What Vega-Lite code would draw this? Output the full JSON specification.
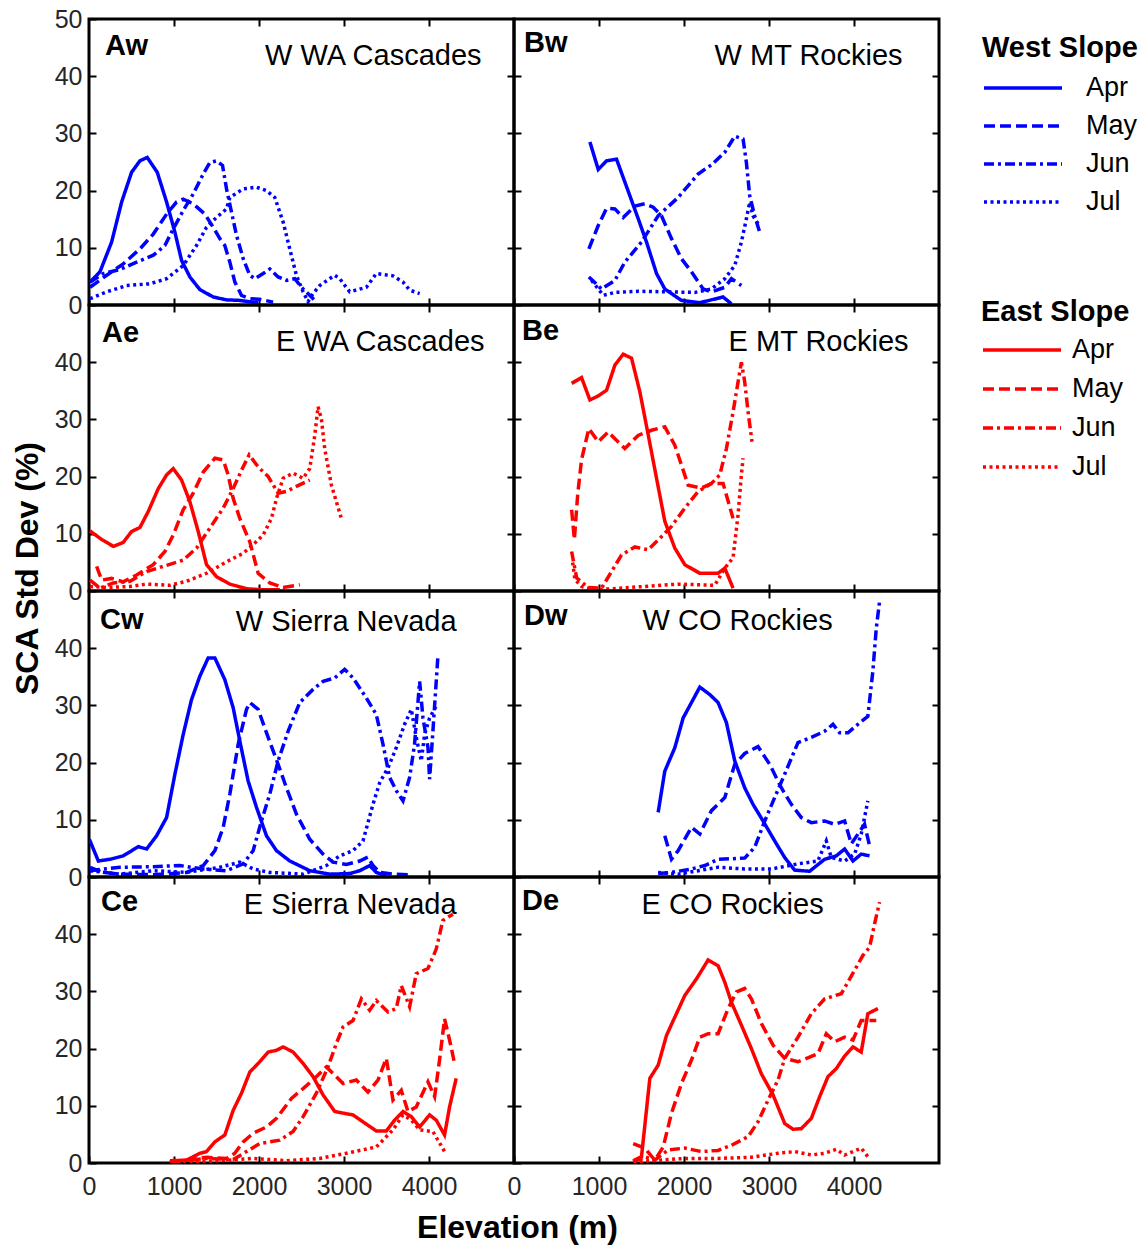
{
  "$schema": "https://vega.github.io/schema/vega-lite/v6.json",
  "background": "white",
  "padding": {"left": 9, "top": 5, "right": 0, "bottom": 0},
  "bounds": "flush",
  "spacing": 0,
  "columns": 2,
  "config": {
    "view": {"stroke": "black", "strokeWidth": 3},
    "axis": {"domain": false, "grid": false, "tickSize": -7, "tickWidth": 2, "tickColor": "black", "labelFont": "Liberation Sans", "labelFontSize": 25, "labelColor": "#262626", "labelFlush": false, "labelOverlap": false, "titleFont": "Liberation Sans", "titleFontWeight": "bold", "titleFontSize": 32, "titleColor": "black"},
    "legend": {"padding": 0}
  },
  "resolve": {"scale": {"strokeDash": "independent"}, "legend": {"strokeDash": "independent"}},
  "datasets": {
    "labels": [
      {"panel":"Aw","code":"Aw","region":"W WA Cascades"},
      {"panel":"Bw","code":"Bw","region":"W MT Rockies"},
      {"panel":"Ae","code":"Ae","region":"E WA Cascades"},
      {"panel":"Be","code":"Be","region":"E MT Rockies"},
      {"panel":"Cw","code":"Cw","region":"W Sierra Nevada"},
      {"panel":"Dw","code":"Dw","region":"W CO Rockies"},
      {"panel":"Ce","code":"Ce","region":"E Sierra Nevada"},
      {"panel":"De","code":"De","region":"E CO Rockies"}
    ],
    "sca": [
      {"panel":"Aw","month":"Apr","elev":12,"sd":4.0},{"panel":"Aw","month":"Apr","elev":129,"sd":5.8},{"panel":"Aw","month":"Apr","elev":266,"sd":11.0},{"panel":"Aw","month":"Apr","elev":384,"sd":18.0},{"panel":"Aw","month":"Apr","elev":501,"sd":23.2},{"panel":"Aw","month":"Apr","elev":599,"sd":25.2},{"panel":"Aw","month":"Apr","elev":685,"sd":25.8},{"panel":"Aw","month":"Apr","elev":803,"sd":23.2},{"panel":"Aw","month":"Apr","elev":913,"sd":18.0},{"panel":"Aw","month":"Apr","elev":1011,"sd":12.7},{"panel":"Aw","month":"Apr","elev":1089,"sd":7.8},{"panel":"Aw","month":"Apr","elev":1187,"sd":4.9},{"panel":"Aw","month":"Apr","elev":1304,"sd":2.7},{"panel":"Aw","month":"Apr","elev":1461,"sd":1.4},{"panel":"Aw","month":"Apr","elev":1618,"sd":0.9},{"panel":"Aw","month":"Apr","elev":1774,"sd":0.8},{"panel":"Aw","month":"Apr","elev":1931,"sd":0.5},{"panel":"Aw","month":"Apr","elev":1990,"sd":0.5},
      {"panel":"Aw","month":"May","elev":12,"sd":3.1},{"panel":"Aw","month":"May","elev":208,"sd":5.2},{"panel":"Aw","month":"May","elev":403,"sd":7.2},{"panel":"Aw","month":"May","elev":599,"sd":9.8},{"panel":"Aw","month":"May","elev":756,"sd":12.4},{"panel":"Aw","month":"May","elev":913,"sd":15.9},{"panel":"Aw","month":"May","elev":1030,"sd":18.0},{"panel":"Aw","month":"May","elev":1108,"sd":18.5},{"panel":"Aw","month":"May","elev":1226,"sd":17.7},{"panel":"Aw","month":"May","elev":1363,"sd":15.9},{"panel":"Aw","month":"May","elev":1461,"sd":13.6},{"panel":"Aw","month":"May","elev":1539,"sd":11.6},{"panel":"Aw","month":"May","elev":1598,"sd":10.4},{"panel":"Aw","month":"May","elev":1657,"sd":7.5},{"panel":"Aw","month":"May","elev":1716,"sd":4.0},{"panel":"Aw","month":"May","elev":1794,"sd":1.7},{"panel":"Aw","month":"May","elev":1892,"sd":1.1},{"panel":"Aw","month":"May","elev":2010,"sd":1.0},{"panel":"Aw","month":"May","elev":2166,"sd":0.5},
      {"panel":"Aw","month":"Jun","elev":12,"sd":4.0},{"panel":"Aw","month":"Jun","elev":168,"sd":5.5},{"panel":"Aw","month":"Jun","elev":364,"sd":6.2},{"panel":"Aw","month":"Jun","elev":560,"sd":7.5},{"panel":"Aw","month":"Jun","elev":756,"sd":8.7},{"panel":"Aw","month":"Jun","elev":893,"sd":10.4},{"panel":"Aw","month":"Jun","elev":991,"sd":13.3},{"panel":"Aw","month":"Jun","elev":1108,"sd":16.5},{"panel":"Aw","month":"Jun","elev":1226,"sd":19.4},{"panel":"Aw","month":"Jun","elev":1344,"sd":22.9},{"panel":"Aw","month":"Jun","elev":1422,"sd":24.9},{"panel":"Aw","month":"Jun","elev":1500,"sd":25.2},{"panel":"Aw","month":"Jun","elev":1571,"sd":24.4},{"panel":"Aw","month":"Jun","elev":1618,"sd":20.3},{"panel":"Aw","month":"Jun","elev":1677,"sd":16.2},{"panel":"Aw","month":"Jun","elev":1735,"sd":12.2},{"panel":"Aw","month":"Jun","elev":1814,"sd":8.1},{"panel":"Aw","month":"Jun","elev":1892,"sd":5.2},{"panel":"Aw","month":"Jun","elev":1951,"sd":4.6},{"panel":"Aw","month":"Jun","elev":2049,"sd":5.5},{"panel":"Aw","month":"Jun","elev":2127,"sd":6.3},{"panel":"Aw","month":"Jun","elev":2225,"sd":4.9},{"panel":"Aw","month":"Jun","elev":2323,"sd":4.3},{"panel":"Aw","month":"Jun","elev":2421,"sd":4.6},{"panel":"Aw","month":"Jun","elev":2499,"sd":3.1},{"panel":"Aw","month":"Jun","elev":2597,"sd":1.7},{"panel":"Aw","month":"Jun","elev":2675,"sd":0.5},
      {"panel":"Aw","month":"Jul","elev":12,"sd":1.1},{"panel":"Aw","month":"Jul","elev":208,"sd":2.3},{"panel":"Aw","month":"Jul","elev":443,"sd":3.4},{"panel":"Aw","month":"Jul","elev":717,"sd":3.7},{"panel":"Aw","month":"Jul","elev":913,"sd":4.6},{"panel":"Aw","month":"Jul","elev":1108,"sd":6.9},{"panel":"Aw","month":"Jul","elev":1265,"sd":10.4},{"panel":"Aw","month":"Jul","elev":1383,"sd":13.6},{"panel":"Aw","month":"Jul","elev":1500,"sd":15.3},{"panel":"Aw","month":"Jul","elev":1618,"sd":16.8},{"panel":"Aw","month":"Jul","elev":1657,"sd":18.8},{"panel":"Aw","month":"Jul","elev":1814,"sd":20.3},{"panel":"Aw","month":"Jul","elev":1970,"sd":20.6},{"panel":"Aw","month":"Jul","elev":2088,"sd":20.0},{"panel":"Aw","month":"Jul","elev":2186,"sd":18.8},{"panel":"Aw","month":"Jul","elev":2284,"sd":14.5},{"panel":"Aw","month":"Jul","elev":2362,"sd":9.8},{"panel":"Aw","month":"Jul","elev":2440,"sd":5.2},{"panel":"Aw","month":"Jul","elev":2519,"sd":2.3},{"panel":"Aw","month":"Jul","elev":2577,"sd":0.6},{"panel":"Aw","month":"Jul","elev":2636,"sd":2.0},{"panel":"Aw","month":"Jul","elev":2714,"sd":3.4},{"panel":"Aw","month":"Jul","elev":2891,"sd":5.2},{"panel":"Aw","month":"Jul","elev":2950,"sd":4.6},{"panel":"Aw","month":"Jul","elev":3067,"sd":2.3},{"panel":"Aw","month":"Jul","elev":3263,"sd":3.1},{"panel":"Aw","month":"Jul","elev":3380,"sd":5.5},{"panel":"Aw","month":"Jul","elev":3576,"sd":5.1},{"panel":"Aw","month":"Jul","elev":3694,"sd":4.0},{"panel":"Aw","month":"Jul","elev":3772,"sd":2.6},{"panel":"Aw","month":"Jul","elev":3890,"sd":2.0},

      {"panel":"Bw","month":"Apr","elev":893,"sd":28.5},{"panel":"Bw","month":"Apr","elev":991,"sd":23.7},{"panel":"Bw","month":"Apr","elev":1089,"sd":25.2},{"panel":"Bw","month":"Apr","elev":1206,"sd":25.5},{"panel":"Bw","month":"Apr","elev":1363,"sd":19.1},{"panel":"Bw","month":"Apr","elev":1461,"sd":15.1},{"panel":"Bw","month":"Apr","elev":1559,"sd":11.0},{"panel":"Bw","month":"Apr","elev":1677,"sd":5.5},{"panel":"Bw","month":"Apr","elev":1774,"sd":2.8},{"panel":"Bw","month":"Apr","elev":1970,"sd":0.8},{"panel":"Bw","month":"Apr","elev":2186,"sd":0.4},{"panel":"Bw","month":"Apr","elev":2460,"sd":1.4},{"panel":"Bw","month":"Apr","elev":2558,"sd":0.2},
      {"panel":"Bw","month":"May","elev":881,"sd":9.8},{"panel":"Bw","month":"May","elev":991,"sd":13.9},{"panel":"Bw","month":"May","elev":1089,"sd":16.9},{"panel":"Bw","month":"May","elev":1187,"sd":16.8},{"panel":"Bw","month":"May","elev":1285,"sd":15.3},{"panel":"Bw","month":"May","elev":1422,"sd":17.3},{"panel":"Bw","month":"May","elev":1539,"sd":17.7},{"panel":"Bw","month":"May","elev":1637,"sd":17.1},{"panel":"Bw","month":"May","elev":1735,"sd":15.6},{"panel":"Bw","month":"May","elev":1853,"sd":11.6},{"panel":"Bw","month":"May","elev":1970,"sd":8.1},{"panel":"Bw","month":"May","elev":2088,"sd":5.8},{"panel":"Bw","month":"May","elev":2225,"sd":2.8},{"panel":"Bw","month":"May","elev":2323,"sd":2.3},{"panel":"Bw","month":"May","elev":2480,"sd":3.1},{"panel":"Bw","month":"May","elev":2558,"sd":4.6},{"panel":"Bw","month":"May","elev":2675,"sd":3.4},
      {"panel":"Bw","month":"Jun","elev":881,"sd":4.9},{"panel":"Bw","month":"Jun","elev":1030,"sd":2.8},{"panel":"Bw","month":"Jun","elev":1187,"sd":4.3},{"panel":"Bw","month":"Jun","elev":1304,"sd":7.5},{"panel":"Bw","month":"Jun","elev":1500,"sd":11.0},{"panel":"Bw","month":"Jun","elev":1696,"sd":15.6},{"panel":"Bw","month":"Jun","elev":1931,"sd":18.8},{"panel":"Bw","month":"Jun","elev":2166,"sd":22.9},{"panel":"Bw","month":"Jun","elev":2323,"sd":24.5},{"panel":"Bw","month":"Jun","elev":2480,"sd":26.7},{"panel":"Bw","month":"Jun","elev":2597,"sd":29.5},{"panel":"Bw","month":"Jun","elev":2695,"sd":29.0},{"panel":"Bw","month":"Jun","elev":2734,"sd":24.9},{"panel":"Bw","month":"Jun","elev":2773,"sd":19.1},{"panel":"Bw","month":"Jun","elev":2832,"sd":15.6},{"panel":"Bw","month":"Jun","elev":2891,"sd":12.7},
      {"panel":"Bw","month":"Jul","elev":912,"sd":4.3},{"panel":"Bw","month":"Jul","elev":1050,"sd":1.7},{"panel":"Bw","month":"Jul","elev":1187,"sd":2.2},{"panel":"Bw","month":"Jul","elev":1461,"sd":2.4},{"panel":"Bw","month":"Jul","elev":1814,"sd":2.3},{"panel":"Bw","month":"Jul","elev":2127,"sd":2.2},{"panel":"Bw","month":"Jul","elev":2323,"sd":2.8},{"panel":"Bw","month":"Jul","elev":2480,"sd":4.6},{"panel":"Bw","month":"Jul","elev":2597,"sd":6.9},{"panel":"Bw","month":"Jul","elev":2675,"sd":11.0},{"panel":"Bw","month":"Jul","elev":2734,"sd":15.1},{"panel":"Bw","month":"Jul","elev":2773,"sd":18.0},{"panel":"Bw","month":"Jul","elev":2812,"sd":15.6},{"panel":"Bw","month":"Jul","elev":2871,"sd":14.2},

      {"panel":"Ae","month":"Apr","elev":12,"sd":10.5},{"panel":"Ae","month":"Apr","elev":149,"sd":9.0},{"panel":"Ae","month":"Apr","elev":286,"sd":7.8},{"panel":"Ae","month":"Apr","elev":403,"sd":8.5},{"panel":"Ae","month":"Apr","elev":501,"sd":10.4},{"panel":"Ae","month":"Apr","elev":599,"sd":11.1},{"panel":"Ae","month":"Apr","elev":697,"sd":13.9},{"panel":"Ae","month":"Apr","elev":815,"sd":17.9},{"panel":"Ae","month":"Apr","elev":913,"sd":20.3},{"panel":"Ae","month":"Apr","elev":991,"sd":21.4},{"panel":"Ae","month":"Apr","elev":1089,"sd":19.4},{"panel":"Ae","month":"Apr","elev":1187,"sd":15.6},{"panel":"Ae","month":"Apr","elev":1285,"sd":10.4},{"panel":"Ae","month":"Apr","elev":1383,"sd":4.6},{"panel":"Ae","month":"Apr","elev":1500,"sd":2.5},{"panel":"Ae","month":"Apr","elev":1657,"sd":1.2},{"panel":"Ae","month":"Apr","elev":1853,"sd":0.4},{"panel":"Ae","month":"Apr","elev":2049,"sd":0.2},{"panel":"Ae","month":"Apr","elev":2245,"sd":0.2},
      {"panel":"Ae","month":"May","elev":90,"sd":4.3},{"panel":"Ae","month":"May","elev":149,"sd":1.9},{"panel":"Ae","month":"May","elev":266,"sd":2.2},{"panel":"Ae","month":"May","elev":403,"sd":1.6},{"panel":"Ae","month":"May","elev":560,"sd":2.8},{"panel":"Ae","month":"May","elev":756,"sd":4.6},{"panel":"Ae","month":"May","elev":893,"sd":6.9},{"panel":"Ae","month":"May","elev":991,"sd":9.8},{"panel":"Ae","month":"May","elev":1108,"sd":14.2},{"panel":"Ae","month":"May","elev":1226,"sd":17.1},{"panel":"Ae","month":"May","elev":1344,"sd":20.8},{"panel":"Ae","month":"May","elev":1481,"sd":23.2},{"panel":"Ae","month":"May","elev":1579,"sd":22.9},{"panel":"Ae","month":"May","elev":1637,"sd":20.3},{"panel":"Ae","month":"May","elev":1696,"sd":16.2},{"panel":"Ae","month":"May","elev":1774,"sd":12.7},{"panel":"Ae","month":"May","elev":1892,"sd":8.6},{"panel":"Ae","month":"May","elev":1990,"sd":3.1},{"panel":"Ae","month":"May","elev":2127,"sd":1.4},{"panel":"Ae","month":"May","elev":2284,"sd":0.6},{"panel":"Ae","month":"May","elev":2480,"sd":1.1},
      {"panel":"Ae","month":"Jun","elev":12,"sd":1.9},{"panel":"Ae","month":"Jun","elev":129,"sd":0.5},{"panel":"Ae","month":"Jun","elev":286,"sd":1.4},{"panel":"Ae","month":"Jun","elev":482,"sd":1.7},{"panel":"Ae","month":"Jun","elev":677,"sd":3.4},{"panel":"Ae","month":"Jun","elev":873,"sd":4.3},{"panel":"Ae","month":"Jun","elev":1108,"sd":5.4},{"panel":"Ae","month":"Jun","elev":1265,"sd":7.5},{"panel":"Ae","month":"Jun","elev":1422,"sd":11.0},{"panel":"Ae","month":"Jun","elev":1579,"sd":14.5},{"panel":"Ae","month":"Jun","elev":1696,"sd":17.9},{"panel":"Ae","month":"Jun","elev":1794,"sd":21.1},{"panel":"Ae","month":"Jun","elev":1884,"sd":23.8},{"panel":"Ae","month":"Jun","elev":1990,"sd":21.7},{"panel":"Ae","month":"Jun","elev":2108,"sd":20.0},{"panel":"Ae","month":"Jun","elev":2225,"sd":17.1},{"panel":"Ae","month":"Jun","elev":2323,"sd":17.4},{"panel":"Ae","month":"Jun","elev":2440,"sd":18.3},{"panel":"Ae","month":"Jun","elev":2597,"sd":19.4},
      {"panel":"Ae","month":"Jul","elev":12,"sd":0.8},{"panel":"Ae","month":"Jul","elev":208,"sd":0.6},{"panel":"Ae","month":"Jul","elev":482,"sd":0.8},{"panel":"Ae","month":"Jul","elev":677,"sd":1.2},{"panel":"Ae","month":"Jul","elev":952,"sd":1.0},{"panel":"Ae","month":"Jul","elev":1148,"sd":1.7},{"panel":"Ae","month":"Jul","elev":1383,"sd":3.1},{"panel":"Ae","month":"Jul","elev":1618,"sd":5.1},{"panel":"Ae","month":"Jul","elev":1814,"sd":6.6},{"panel":"Ae","month":"Jul","elev":1931,"sd":8.1},{"panel":"Ae","month":"Jul","elev":2049,"sd":9.8},{"panel":"Ae","month":"Jul","elev":2147,"sd":12.7},{"panel":"Ae","month":"Jul","elev":2206,"sd":16.2},{"panel":"Ae","month":"Jul","elev":2284,"sd":19.7},{"panel":"Ae","month":"Jul","elev":2401,"sd":20.6},{"panel":"Ae","month":"Jul","elev":2519,"sd":19.7},{"panel":"Ae","month":"Jul","elev":2597,"sd":21.4},{"panel":"Ae","month":"Jul","elev":2656,"sd":27.2},{"panel":"Ae","month":"Jul","elev":2695,"sd":32.2},{"panel":"Ae","month":"Jul","elev":2734,"sd":30.1},{"panel":"Ae","month":"Jul","elev":2773,"sd":24.9},{"panel":"Ae","month":"Jul","elev":2852,"sd":18.5},{"panel":"Ae","month":"Jul","elev":2969,"sd":12.7},

      {"panel":"Be","month":"Apr","elev":678,"sd":36.3},{"panel":"Be","month":"Apr","elev":795,"sd":37.3},{"panel":"Be","month":"Apr","elev":893,"sd":33.4},{"panel":"Be","month":"Apr","elev":991,"sd":34.1},{"panel":"Be","month":"Apr","elev":1089,"sd":35.1},{"panel":"Be","month":"Apr","elev":1187,"sd":39.5},{"panel":"Be","month":"Apr","elev":1285,"sd":41.4},{"panel":"Be","month":"Apr","elev":1383,"sd":40.7},{"panel":"Be","month":"Apr","elev":1481,"sd":34.8},{"panel":"Be","month":"Apr","elev":1579,"sd":27.3},{"panel":"Be","month":"Apr","elev":1677,"sd":19.7},{"panel":"Be","month":"Apr","elev":1774,"sd":12.2},{"panel":"Be","month":"Apr","elev":1892,"sd":7.5},{"panel":"Be","month":"Apr","elev":2010,"sd":4.6},{"panel":"Be","month":"Apr","elev":2186,"sd":3.1},{"panel":"Be","month":"Apr","elev":2401,"sd":3.1},{"panel":"Be","month":"Apr","elev":2480,"sd":4.0},{"panel":"Be","month":"Apr","elev":2577,"sd":0.5},
      {"panel":"Be","month":"May","elev":678,"sd":14.2},{"panel":"Be","month":"May","elev":710,"sd":9.0},{"panel":"Be","month":"May","elev":750,"sd":17.0},{"panel":"Be","month":"May","elev":795,"sd":23.0},{"panel":"Be","month":"May","elev":881,"sd":28.4},{"panel":"Be","month":"May","elev":991,"sd":26.1},{"panel":"Be","month":"May","elev":1108,"sd":27.8},{"panel":"Be","month":"May","elev":1304,"sd":24.9},{"panel":"Be","month":"May","elev":1461,"sd":27.2},{"panel":"Be","month":"May","elev":1618,"sd":28.1},{"panel":"Be","month":"May","elev":1774,"sd":28.7},{"panel":"Be","month":"May","elev":1892,"sd":25.5},{"panel":"Be","month":"May","elev":2049,"sd":18.5},{"panel":"Be","month":"May","elev":2206,"sd":18.0},{"panel":"Be","month":"May","elev":2323,"sd":18.8},{"panel":"Be","month":"May","elev":2460,"sd":18.8},{"panel":"Be","month":"May","elev":2577,"sd":12.7},
      {"panel":"Be","month":"Jun","elev":678,"sd":6.9},{"panel":"Be","month":"Jun","elev":737,"sd":2.3},{"panel":"Be","month":"Jun","elev":874,"sd":0.6},{"panel":"Be","month":"Jun","elev":1030,"sd":0.5},{"panel":"Be","month":"Jun","elev":1148,"sd":3.4},{"panel":"Be","month":"Jun","elev":1265,"sd":6.3},{"panel":"Be","month":"Jun","elev":1422,"sd":7.7},{"panel":"Be","month":"Jun","elev":1579,"sd":7.2},{"panel":"Be","month":"Jun","elev":1735,"sd":9.5},{"panel":"Be","month":"Jun","elev":1853,"sd":11.3},{"panel":"Be","month":"Jun","elev":2010,"sd":14.5},{"panel":"Be","month":"Jun","elev":2166,"sd":17.4},{"panel":"Be","month":"Jun","elev":2323,"sd":18.8},{"panel":"Be","month":"Jun","elev":2421,"sd":20.3},{"panel":"Be","month":"Jun","elev":2499,"sd":24.9},{"panel":"Be","month":"Jun","elev":2577,"sd":31.3},{"panel":"Be","month":"Jun","elev":2675,"sd":40.0},{"panel":"Be","month":"Jun","elev":2714,"sd":36.6},{"panel":"Be","month":"Jun","elev":2754,"sd":31.3},{"panel":"Be","month":"Jun","elev":2800,"sd":26.1},
      {"panel":"Be","month":"Jul","elev":690,"sd":5.0},{"panel":"Be","month":"Jul","elev":717,"sd":2.0},{"panel":"Be","month":"Jul","elev":795,"sd":0.8},{"panel":"Be","month":"Jul","elev":952,"sd":0.2},{"panel":"Be","month":"Jul","elev":1148,"sd":0.4},{"panel":"Be","month":"Jul","elev":1539,"sd":0.8},{"panel":"Be","month":"Jul","elev":1931,"sd":1.2},{"panel":"Be","month":"Jul","elev":2362,"sd":1.0},{"panel":"Be","month":"Jul","elev":2480,"sd":4.0},{"panel":"Be","month":"Jul","elev":2577,"sd":5.8},{"panel":"Be","month":"Jul","elev":2636,"sd":13.3},{"panel":"Be","month":"Jul","elev":2675,"sd":20.3},{"panel":"Be","month":"Jul","elev":2695,"sd":23.2},

      {"panel":"Cw","month":"Apr","elev":4,"sd":6.6},{"panel":"Cw","month":"Apr","elev":110,"sd":2.8},{"panel":"Cw","month":"Apr","elev":247,"sd":3.1},{"panel":"Cw","month":"Apr","elev":403,"sd":3.7},{"panel":"Cw","month":"Apr","elev":580,"sd":5.3},{"panel":"Cw","month":"Apr","elev":678,"sd":4.9},{"panel":"Cw","month":"Apr","elev":795,"sd":7.2},{"panel":"Cw","month":"Apr","elev":913,"sd":10.4},{"panel":"Cw","month":"Apr","elev":1011,"sd":18.0},{"panel":"Cw","month":"Apr","elev":1108,"sd":24.9},{"panel":"Cw","month":"Apr","elev":1206,"sd":31.0},{"panel":"Cw","month":"Apr","elev":1304,"sd":35.1},{"panel":"Cw","month":"Apr","elev":1402,"sd":38.3},{"panel":"Cw","month":"Apr","elev":1481,"sd":38.3},{"panel":"Cw","month":"Apr","elev":1598,"sd":34.5},{"panel":"Cw","month":"Apr","elev":1696,"sd":29.6},{"panel":"Cw","month":"Apr","elev":1774,"sd":23.8},{"panel":"Cw","month":"Apr","elev":1872,"sd":16.8},{"panel":"Cw","month":"Apr","elev":1970,"sd":12.2},{"panel":"Cw","month":"Apr","elev":2088,"sd":7.2},{"panel":"Cw","month":"Apr","elev":2206,"sd":4.6},{"panel":"Cw","month":"Apr","elev":2362,"sd":2.8},{"panel":"Cw","month":"Apr","elev":2597,"sd":1.1},{"panel":"Cw","month":"Apr","elev":2832,"sd":0.5},{"panel":"Cw","month":"Apr","elev":3067,"sd":0.6},{"panel":"Cw","month":"Apr","elev":3185,"sd":1.1},{"panel":"Cw","month":"Apr","elev":3302,"sd":2.0},{"panel":"Cw","month":"Apr","elev":3380,"sd":0.8},{"panel":"Cw","month":"Apr","elev":3498,"sd":0.2},
      {"panel":"Cw","month":"May","elev":12,"sd":1.7},{"panel":"Cw","month":"May","elev":168,"sd":0.8},{"panel":"Cw","month":"May","elev":364,"sd":0.5},{"panel":"Cw","month":"May","elev":756,"sd":0.4},{"panel":"Cw","month":"May","elev":1148,"sd":0.8},{"panel":"Cw","month":"May","elev":1344,"sd":2.0},{"panel":"Cw","month":"May","elev":1481,"sd":4.6},{"panel":"Cw","month":"May","elev":1579,"sd":8.7},{"panel":"Cw","month":"May","elev":1657,"sd":14.5},{"panel":"Cw","month":"May","elev":1755,"sd":23.2},{"panel":"Cw","month":"May","elev":1853,"sd":29.3},{"panel":"Cw","month":"May","elev":1892,"sd":30.5},{"panel":"Cw","month":"May","elev":1990,"sd":29.3},{"panel":"Cw","month":"May","elev":2108,"sd":24.4},{"panel":"Cw","month":"May","elev":2225,"sd":19.7},{"panel":"Cw","month":"May","elev":2323,"sd":15.6},{"panel":"Cw","month":"May","elev":2440,"sd":11.0},{"panel":"Cw","month":"May","elev":2597,"sd":6.6},{"panel":"Cw","month":"May","elev":2754,"sd":4.0},{"panel":"Cw","month":"May","elev":2871,"sd":2.6},{"panel":"Cw","month":"May","elev":3028,"sd":2.2},{"panel":"Cw","month":"May","elev":3185,"sd":2.8},{"panel":"Cw","month":"May","elev":3282,"sd":3.5},{"panel":"Cw","month":"May","elev":3341,"sd":2.0},{"panel":"Cw","month":"May","elev":3420,"sd":0.8},{"panel":"Cw","month":"May","elev":3576,"sd":0.5},{"panel":"Cw","month":"May","elev":3772,"sd":0.4},
      {"panel":"Cw","month":"Jun","elev":12,"sd":1.1},{"panel":"Cw","month":"Jun","elev":364,"sd":1.7},{"panel":"Cw","month":"Jun","elev":756,"sd":1.8},{"panel":"Cw","month":"Jun","elev":1069,"sd":2.0},{"panel":"Cw","month":"Jun","elev":1344,"sd":1.4},{"panel":"Cw","month":"Jun","elev":1618,"sd":1.1},{"panel":"Cw","month":"Jun","elev":1814,"sd":2.3},{"panel":"Cw","month":"Jun","elev":1931,"sd":4.6},{"panel":"Cw","month":"Jun","elev":2029,"sd":9.8},{"panel":"Cw","month":"Jun","elev":2127,"sd":14.5},{"panel":"Cw","month":"Jun","elev":2225,"sd":20.3},{"panel":"Cw","month":"Jun","elev":2343,"sd":25.5},{"panel":"Cw","month":"Jun","elev":2480,"sd":30.5},{"panel":"Cw","month":"Jun","elev":2636,"sd":32.8},{"panel":"Cw","month":"Jun","elev":2754,"sd":34.2},{"panel":"Cw","month":"Jun","elev":2891,"sd":34.8},{"panel":"Cw","month":"Jun","elev":3008,"sd":36.3},{"panel":"Cw","month":"Jun","elev":3106,"sd":34.8},{"panel":"Cw","month":"Jun","elev":3263,"sd":31.3},{"panel":"Cw","month":"Jun","elev":3380,"sd":28.4},{"panel":"Cw","month":"Jun","elev":3459,"sd":23.2},{"panel":"Cw","month":"Jun","elev":3537,"sd":17.4},{"panel":"Cw","month":"Jun","elev":3615,"sd":15.1},{"panel":"Cw","month":"Jun","elev":3694,"sd":13.3},{"panel":"Cw","month":"Jun","elev":3772,"sd":17.4},{"panel":"Cw","month":"Jun","elev":3830,"sd":23.2},{"panel":"Cw","month":"Jun","elev":3890,"sd":34.2},{"panel":"Cw","month":"Jun","elev":3929,"sd":27.8},{"panel":"Cw","month":"Jun","elev":3988,"sd":22.6},{"panel":"Cw","month":"Jun","elev":4007,"sd":17.1},{"panel":"Cw","month":"Jun","elev":4046,"sd":25.5},{"panel":"Cw","month":"Jun","elev":4105,"sd":38.6},
      {"panel":"Cw","month":"Jul","elev":12,"sd":1.1},{"panel":"Cw","month":"Jul","elev":364,"sd":0.5},{"panel":"Cw","month":"Jul","elev":756,"sd":1.1},{"panel":"Cw","month":"Jul","elev":1148,"sd":0.8},{"panel":"Cw","month":"Jul","elev":1539,"sd":1.7},{"panel":"Cw","month":"Jul","elev":1774,"sd":2.6},{"panel":"Cw","month":"Jul","elev":1931,"sd":1.4},{"panel":"Cw","month":"Jul","elev":2127,"sd":0.8},{"panel":"Cw","month":"Jul","elev":2519,"sd":0.5},{"panel":"Cw","month":"Jul","elev":2793,"sd":2.0},{"panel":"Cw","month":"Jul","elev":2950,"sd":3.7},{"panel":"Cw","month":"Jul","elev":3106,"sd":4.6},{"panel":"Cw","month":"Jul","elev":3223,"sd":6.3},{"panel":"Cw","month":"Jul","elev":3341,"sd":12.7},{"panel":"Cw","month":"Jul","elev":3420,"sd":16.5},{"panel":"Cw","month":"Jul","elev":3518,"sd":19.1},{"panel":"Cw","month":"Jul","elev":3615,"sd":22.6},{"panel":"Cw","month":"Jul","elev":3713,"sd":26.7},{"panel":"Cw","month":"Jul","elev":3792,"sd":29.3},{"panel":"Cw","month":"Jul","elev":3850,"sd":24.4},{"panel":"Cw","month":"Jul","elev":3909,"sd":20.3},{"panel":"Cw","month":"Jul","elev":3948,"sd":24.9},{"panel":"Cw","month":"Jul","elev":4007,"sd":27.8},{"panel":"Cw","month":"Jul","elev":4085,"sd":29.9},

      {"panel":"Dw","month":"Apr","elev":1696,"sd":11.3},{"panel":"Dw","month":"Apr","elev":1774,"sd":18.5},{"panel":"Dw","month":"Apr","elev":1892,"sd":22.6},{"panel":"Dw","month":"Apr","elev":1990,"sd":27.8},{"panel":"Dw","month":"Apr","elev":2088,"sd":30.5},{"panel":"Dw","month":"Apr","elev":2186,"sd":33.2},{"panel":"Dw","month":"Apr","elev":2303,"sd":31.9},{"panel":"Dw","month":"Apr","elev":2401,"sd":30.5},{"panel":"Dw","month":"Apr","elev":2499,"sd":27.0},{"panel":"Dw","month":"Apr","elev":2597,"sd":20.3},{"panel":"Dw","month":"Apr","elev":2714,"sd":15.6},{"panel":"Dw","month":"Apr","elev":2812,"sd":12.7},{"panel":"Dw","month":"Apr","elev":2930,"sd":9.8},{"panel":"Dw","month":"Apr","elev":3067,"sd":6.3},{"panel":"Dw","month":"Apr","elev":3185,"sd":3.4},{"panel":"Dw","month":"Apr","elev":3302,"sd":1.2},{"panel":"Dw","month":"Apr","elev":3478,"sd":1.0},{"panel":"Dw","month":"Apr","elev":3655,"sd":3.1},{"panel":"Dw","month":"Apr","elev":3792,"sd":3.7},{"panel":"Dw","month":"Apr","elev":3890,"sd":4.9},{"panel":"Dw","month":"Apr","elev":3988,"sd":2.8},{"panel":"Dw","month":"Apr","elev":4085,"sd":4.0},{"panel":"Dw","month":"Apr","elev":4183,"sd":3.7},
      {"panel":"Dw","month":"May","elev":1774,"sd":7.2},{"panel":"Dw","month":"May","elev":1853,"sd":3.1},{"panel":"Dw","month":"May","elev":1931,"sd":4.6},{"panel":"Dw","month":"May","elev":2088,"sd":8.7},{"panel":"Dw","month":"May","elev":2186,"sd":7.5},{"panel":"Dw","month":"May","elev":2323,"sd":11.6},{"panel":"Dw","month":"May","elev":2480,"sd":13.9},{"panel":"Dw","month":"May","elev":2597,"sd":19.7},{"panel":"Dw","month":"May","elev":2714,"sd":21.6},{"panel":"Dw","month":"May","elev":2871,"sd":22.8},{"panel":"Dw","month":"May","elev":3008,"sd":19.7},{"panel":"Dw","month":"May","elev":3145,"sd":15.6},{"panel":"Dw","month":"May","elev":3263,"sd":12.7},{"panel":"Dw","month":"May","elev":3380,"sd":10.4},{"panel":"Dw","month":"May","elev":3498,"sd":9.5},{"panel":"Dw","month":"May","elev":3655,"sd":9.8},{"panel":"Dw","month":"May","elev":3772,"sd":9.2},{"panel":"Dw","month":"May","elev":3890,"sd":9.8},{"panel":"Dw","month":"May","elev":3968,"sd":5.8},{"panel":"Dw","month":"May","elev":4046,"sd":7.5},{"panel":"Dw","month":"May","elev":4124,"sd":9.2},{"panel":"Dw","month":"May","elev":4183,"sd":5.5},
      {"panel":"Dw","month":"Jun","elev":1696,"sd":0.6},{"panel":"Dw","month":"Jun","elev":1853,"sd":0.8},{"panel":"Dw","month":"Jun","elev":2088,"sd":1.4},{"panel":"Dw","month":"Jun","elev":2245,"sd":2.0},{"panel":"Dw","month":"Jun","elev":2401,"sd":3.1},{"panel":"Dw","month":"Jun","elev":2714,"sd":3.3},{"panel":"Dw","month":"Jun","elev":2832,"sd":5.2},{"panel":"Dw","month":"Jun","elev":2950,"sd":9.8},{"panel":"Dw","month":"Jun","elev":3067,"sd":13.9},{"panel":"Dw","month":"Jun","elev":3185,"sd":18.0},{"panel":"Dw","month":"Jun","elev":3341,"sd":23.5},{"panel":"Dw","month":"Jun","elev":3498,"sd":24.4},{"panel":"Dw","month":"Jun","elev":3655,"sd":25.5},{"panel":"Dw","month":"Jun","elev":3753,"sd":26.7},{"panel":"Dw","month":"Jun","elev":3831,"sd":25.2},{"panel":"Dw","month":"Jun","elev":3929,"sd":25.2},{"panel":"Dw","month":"Jun","elev":4046,"sd":26.7},{"panel":"Dw","month":"Jun","elev":4163,"sd":28.1},{"panel":"Dw","month":"Jun","elev":4222,"sd":36.0},{"panel":"Dw","month":"Jun","elev":4262,"sd":43.5},{"panel":"Dw","month":"Jun","elev":4301,"sd":48.2},
      {"panel":"Dw","month":"Jul","elev":1696,"sd":0.8},{"panel":"Dw","month":"Jul","elev":1931,"sd":0.5},{"panel":"Dw","month":"Jul","elev":2166,"sd":1.1},{"panel":"Dw","month":"Jul","elev":2401,"sd":1.7},{"panel":"Dw","month":"Jul","elev":2714,"sd":1.4},{"panel":"Dw","month":"Jul","elev":3028,"sd":1.4},{"panel":"Dw","month":"Jul","elev":3341,"sd":2.3},{"panel":"Dw","month":"Jul","elev":3576,"sd":2.8},{"panel":"Dw","month":"Jul","elev":3674,"sd":6.3},{"panel":"Dw","month":"Jul","elev":3733,"sd":3.4},{"panel":"Dw","month":"Jul","elev":3890,"sd":2.8},{"panel":"Dw","month":"Jul","elev":4007,"sd":4.0},{"panel":"Dw","month":"Jul","elev":4085,"sd":7.5},{"panel":"Dw","month":"Jul","elev":4163,"sd":13.3},

      {"panel":"Ce","month":"Apr","elev":952,"sd":0.4},{"panel":"Ce","month":"Apr","elev":1148,"sd":0.5},{"panel":"Ce","month":"Apr","elev":1304,"sd":1.7},{"panel":"Ce","month":"Apr","elev":1383,"sd":2.0},{"panel":"Ce","month":"Apr","elev":1481,"sd":3.7},{"panel":"Ce","month":"Apr","elev":1598,"sd":4.9},{"panel":"Ce","month":"Apr","elev":1696,"sd":9.2},{"panel":"Ce","month":"Apr","elev":1794,"sd":12.2},{"panel":"Ce","month":"Apr","elev":1892,"sd":15.9},{"panel":"Ce","month":"Apr","elev":1990,"sd":17.4},{"panel":"Ce","month":"Apr","elev":2108,"sd":19.4},{"panel":"Ce","month":"Apr","elev":2206,"sd":19.7},{"panel":"Ce","month":"Apr","elev":2284,"sd":20.3},{"panel":"Ce","month":"Apr","elev":2401,"sd":19.4},{"panel":"Ce","month":"Apr","elev":2519,"sd":17.4},{"panel":"Ce","month":"Apr","elev":2636,"sd":15.1},{"panel":"Ce","month":"Apr","elev":2754,"sd":11.9},{"panel":"Ce","month":"Apr","elev":2891,"sd":9.0},{"panel":"Ce","month":"Apr","elev":3106,"sd":8.4},{"panel":"Ce","month":"Apr","elev":3223,"sd":7.2},{"panel":"Ce","month":"Apr","elev":3380,"sd":5.6},{"panel":"Ce","month":"Apr","elev":3498,"sd":5.6},{"panel":"Ce","month":"Apr","elev":3596,"sd":7.5},{"panel":"Ce","month":"Apr","elev":3694,"sd":9.0},{"panel":"Ce","month":"Apr","elev":3792,"sd":8.1},{"panel":"Ce","month":"Apr","elev":3890,"sd":6.3},{"panel":"Ce","month":"Apr","elev":4007,"sd":8.4},{"panel":"Ce","month":"Apr","elev":4085,"sd":7.5},{"panel":"Ce","month":"Apr","elev":4183,"sd":4.9},{"panel":"Ce","month":"Apr","elev":4242,"sd":9.8},{"panel":"Ce","month":"Apr","elev":4320,"sd":14.8},
      {"panel":"Ce","month":"May","elev":952,"sd":0.2},{"panel":"Ce","month":"May","elev":1148,"sd":0.5},{"panel":"Ce","month":"May","elev":1383,"sd":1.0},{"panel":"Ce","month":"May","elev":1618,"sd":0.8},{"panel":"Ce","month":"May","elev":1716,"sd":1.7},{"panel":"Ce","month":"May","elev":1814,"sd":3.7},{"panel":"Ce","month":"May","elev":1931,"sd":5.2},{"panel":"Ce","month":"May","elev":2088,"sd":6.3},{"panel":"Ce","month":"May","elev":2206,"sd":7.8},{"panel":"Ce","month":"May","elev":2382,"sd":11.3},{"panel":"Ce","month":"May","elev":2519,"sd":13.0},{"panel":"Ce","month":"May","elev":2656,"sd":14.8},{"panel":"Ce","month":"May","elev":2793,"sd":16.8},{"panel":"Ce","month":"May","elev":2989,"sd":13.9},{"panel":"Ce","month":"May","elev":3145,"sd":14.5},{"panel":"Ce","month":"May","elev":3282,"sd":12.4},{"panel":"Ce","month":"May","elev":3400,"sd":14.5},{"panel":"Ce","month":"May","elev":3498,"sd":18.3},{"panel":"Ce","month":"May","elev":3576,"sd":11.0},{"panel":"Ce","month":"May","elev":3674,"sd":12.7},{"panel":"Ce","month":"May","elev":3753,"sd":9.0},{"panel":"Ce","month":"May","elev":3850,"sd":9.8},{"panel":"Ce","month":"May","elev":3988,"sd":14.2},{"panel":"Ce","month":"May","elev":4066,"sd":11.6},{"panel":"Ce","month":"May","elev":4124,"sd":18.0},{"panel":"Ce","month":"May","elev":4183,"sd":25.2},{"panel":"Ce","month":"May","elev":4242,"sd":21.5},{"panel":"Ce","month":"May","elev":4301,"sd":17.4},
      {"panel":"Ce","month":"Jun","elev":952,"sd":0.2},{"panel":"Ce","month":"Jun","elev":1383,"sd":0.8},{"panel":"Ce","month":"Jun","elev":1696,"sd":0.6},{"panel":"Ce","month":"Jun","elev":1853,"sd":2.0},{"panel":"Ce","month":"Jun","elev":2010,"sd":3.4},{"panel":"Ce","month":"Jun","elev":2245,"sd":4.0},{"panel":"Ce","month":"Jun","elev":2401,"sd":5.5},{"panel":"Ce","month":"Jun","elev":2519,"sd":8.1},{"panel":"Ce","month":"Jun","elev":2675,"sd":12.2},{"panel":"Ce","month":"Jun","elev":2812,"sd":16.8},{"panel":"Ce","month":"Jun","elev":2910,"sd":20.9},{"panel":"Ce","month":"Jun","elev":2989,"sd":23.8},{"panel":"Ce","month":"Jun","elev":3106,"sd":24.9},{"panel":"Ce","month":"Jun","elev":3204,"sd":28.7},{"panel":"Ce","month":"Jun","elev":3302,"sd":26.7},{"panel":"Ce","month":"Jun","elev":3380,"sd":28.4},{"panel":"Ce","month":"Jun","elev":3518,"sd":26.4},{"panel":"Ce","month":"Jun","elev":3615,"sd":27.0},{"panel":"Ce","month":"Jun","elev":3674,"sd":31.0},{"panel":"Ce","month":"Jun","elev":3772,"sd":27.3},{"panel":"Ce","month":"Jun","elev":3850,"sd":33.1},{"panel":"Ce","month":"Jun","elev":3988,"sd":34.0},{"panel":"Ce","month":"Jun","elev":4085,"sd":37.4},{"panel":"Ce","month":"Jun","elev":4163,"sd":42.4},{"panel":"Ce","month":"Jun","elev":4281,"sd":43.5},
      {"panel":"Ce","month":"Jul","elev":952,"sd":0.2},{"panel":"Ce","month":"Jul","elev":1540,"sd":0.4},{"panel":"Ce","month":"Jul","elev":1931,"sd":0.8},{"panel":"Ce","month":"Jul","elev":2323,"sd":0.4},{"panel":"Ce","month":"Jul","elev":2714,"sd":0.8},{"panel":"Ce","month":"Jul","elev":3028,"sd":1.7},{"panel":"Ce","month":"Jul","elev":3380,"sd":2.8},{"panel":"Ce","month":"Jul","elev":3576,"sd":5.8},{"panel":"Ce","month":"Jul","elev":3694,"sd":8.4},{"panel":"Ce","month":"Jul","elev":3792,"sd":7.5},{"panel":"Ce","month":"Jul","elev":3890,"sd":5.8},{"panel":"Ce","month":"Jul","elev":4046,"sd":5.5},{"panel":"Ce","month":"Jul","elev":4183,"sd":2.0},

      {"panel":"De","month":"Apr","elev":1402,"sd":0.4},{"panel":"De","month":"Apr","elev":1500,"sd":1.1},{"panel":"De","month":"Apr","elev":1598,"sd":14.8},{"panel":"De","month":"Apr","elev":1696,"sd":17.1},{"panel":"De","month":"Apr","elev":1794,"sd":22.3},{"panel":"De","month":"Apr","elev":1892,"sd":25.5},{"panel":"De","month":"Apr","elev":2010,"sd":29.3},{"panel":"De","month":"Apr","elev":2147,"sd":32.2},{"panel":"De","month":"Apr","elev":2284,"sd":35.5},{"panel":"De","month":"Apr","elev":2401,"sd":34.5},{"panel":"De","month":"Apr","elev":2480,"sd":31.6},{"panel":"De","month":"Apr","elev":2558,"sd":28.1},{"panel":"De","month":"Apr","elev":2675,"sd":24.1},{"panel":"De","month":"Apr","elev":2793,"sd":20.0},{"panel":"De","month":"Apr","elev":2910,"sd":15.6},{"panel":"De","month":"Apr","elev":3048,"sd":11.9},{"panel":"De","month":"Apr","elev":3185,"sd":6.9},{"panel":"De","month":"Apr","elev":3282,"sd":5.9},{"panel":"De","month":"Apr","elev":3380,"sd":6.0},{"panel":"De","month":"Apr","elev":3498,"sd":7.8},{"panel":"De","month":"Apr","elev":3596,"sd":11.6},{"panel":"De","month":"Apr","elev":3694,"sd":15.1},{"panel":"De","month":"Apr","elev":3792,"sd":16.5},{"panel":"De","month":"Apr","elev":3890,"sd":18.7},{"panel":"De","month":"Apr","elev":3988,"sd":20.3},{"panel":"De","month":"Apr","elev":4085,"sd":19.4},{"panel":"De","month":"Apr","elev":4163,"sd":26.1},{"panel":"De","month":"Apr","elev":4281,"sd":27.0},
      {"panel":"De","month":"May","elev":1402,"sd":3.4},{"panel":"De","month":"May","elev":1539,"sd":2.6},{"panel":"De","month":"May","elev":1657,"sd":0.5},{"panel":"De","month":"May","elev":1755,"sd":2.8},{"panel":"De","month":"May","elev":1853,"sd":8.7},{"panel":"De","month":"May","elev":1970,"sd":13.9},{"panel":"De","month":"May","elev":2088,"sd":18.0},{"panel":"De","month":"May","elev":2186,"sd":22.0},{"panel":"De","month":"May","elev":2284,"sd":22.6},{"panel":"De","month":"May","elev":2401,"sd":22.6},{"panel":"De","month":"May","elev":2519,"sd":27.0},{"panel":"De","month":"May","elev":2617,"sd":29.9},{"panel":"De","month":"May","elev":2714,"sd":30.5},{"panel":"De","month":"May","elev":2793,"sd":28.7},{"panel":"De","month":"May","elev":2910,"sd":24.4},{"panel":"De","month":"May","elev":3048,"sd":20.6},{"panel":"De","month":"May","elev":3185,"sd":18.3},{"panel":"De","month":"May","elev":3341,"sd":17.7},{"panel":"De","month":"May","elev":3576,"sd":19.1},{"panel":"De","month":"May","elev":3674,"sd":22.6},{"panel":"De","month":"May","elev":3772,"sd":21.2},{"panel":"De","month":"May","elev":3890,"sd":22.0},{"panel":"De","month":"May","elev":3988,"sd":21.5},{"panel":"De","month":"May","elev":4085,"sd":24.9},{"panel":"De","month":"May","elev":4262,"sd":24.9},
      {"panel":"De","month":"Jun","elev":1402,"sd":0.2},{"panel":"De","month":"Jun","elev":1539,"sd":1.1},{"panel":"De","month":"Jun","elev":1657,"sd":0.5},{"panel":"De","month":"Jun","elev":1814,"sd":2.3},{"panel":"De","month":"Jun","elev":2010,"sd":2.6},{"panel":"De","month":"Jun","elev":2206,"sd":2.0},{"panel":"De","month":"Jun","elev":2401,"sd":2.2},{"panel":"De","month":"Jun","elev":2558,"sd":3.1},{"panel":"De","month":"Jun","elev":2754,"sd":4.6},{"panel":"De","month":"Jun","elev":2871,"sd":7.2},{"panel":"De","month":"Jun","elev":2989,"sd":11.0},{"panel":"De","month":"Jun","elev":3106,"sd":14.5},{"panel":"De","month":"Jun","elev":3185,"sd":18.3},{"panel":"De","month":"Jun","elev":3341,"sd":22.0},{"panel":"De","month":"Jun","elev":3498,"sd":26.1},{"panel":"De","month":"Jun","elev":3655,"sd":28.7},{"panel":"De","month":"Jun","elev":3851,"sd":29.6},{"panel":"De","month":"Jun","elev":4007,"sd":33.7},{"panel":"De","month":"Jun","elev":4105,"sd":36.3},{"panel":"De","month":"Jun","elev":4183,"sd":37.7},{"panel":"De","month":"Jun","elev":4242,"sd":41.8},{"panel":"De","month":"Jun","elev":4301,"sd":45.6},
      {"panel":"De","month":"Jul","elev":1402,"sd":0.2},{"panel":"De","month":"Jul","elev":1618,"sd":0.4},{"panel":"De","month":"Jul","elev":2010,"sd":0.8},{"panel":"De","month":"Jul","elev":2401,"sd":0.8},{"panel":"De","month":"Jul","elev":2793,"sd":1.0},{"panel":"De","month":"Jul","elev":3106,"sd":1.7},{"panel":"De","month":"Jul","elev":3302,"sd":2.0},{"panel":"De","month":"Jul","elev":3498,"sd":1.4},{"panel":"De","month":"Jul","elev":3655,"sd":1.7},{"panel":"De","month":"Jul","elev":3792,"sd":2.4},{"panel":"De","month":"Jul","elev":3890,"sd":1.4},{"panel":"De","month":"Jul","elev":4085,"sd":2.6},{"panel":"De","month":"Jul","elev":4163,"sd":1.1}
    ]
  },
  "concat": [
    {
      "width": 425, "height": 286,
      "layer": [
        {"data": {"name": "sca"}, "transform": [{"filter": "datum.panel === 'Aw'"}],
         "mark": {"type": "line", "color": "#0000ff", "strokeWidth": 3.5, "clip": true},
         "encoding": {
           "x": {"field": "elev", "type": "quantitative", "scale": {"domain": [0, 5000], "nice": false}, "axis": {"values": [0,1000,2000,3000,4000], "labels": false, "title": null}},
           "y": {"field": "sd", "type": "quantitative", "scale": {"domain": [0, 50], "nice": false}, "axis": {"values": [0,10,20,30,40,50], "labelPadding": 14, "title": null}},
           "strokeDash": {"field": "month", "type": "nominal", "scale": {"domain": ["Apr","May","Jun","Jul"], "range": [[1,0],[11,5],[10,4,3,4],[3,3.5]]},
             "legend": {"title": "West Slope", "orient": "none", "legendX": 893, "legendY": 15, "titleFont": "Liberation Sans", "titleFontSize": 29, "titleFontWeight": "bold", "titleColor": "black", "titlePadding": 11, "labelFont": "Liberation Sans", "labelFontSize": 27, "labelColor": "black", "labelOffset": 22, "symbolType": "stroke", "symbolSize": 6084, "symbolStrokeWidth": 3.5, "symbolStrokeColor": "#0000ff", "clipHeight": 28, "rowPadding": 10}}
         }},
        {"data": {"name": "labels"}, "transform": [{"filter": "datum.panel === 'Aw'"}],
         "mark": {"type": "text", "align": "left", "baseline": "middle", "font": "Liberation Sans", "fontSize": 29, "fontWeight": "bold", "color": "black"},
         "encoding": {
           "x": {"datum": 188, "type": "quantitative", "axis": {"orient": "top", "values": [1000,2000,3000,4000], "labels": false, "title": null}},
           "y": {"datum": 45.3, "type": "quantitative", "axis": {"orient": "right", "values": [10,20,30,40], "labels": false, "title": null}},
           "text": {"field": "code"}
         }},
        {"data": {"name": "labels"}, "transform": [{"filter": "datum.panel === 'Aw'"}],
         "mark": {"type": "text", "align": "right", "baseline": "middle", "font": "Liberation Sans", "fontSize": 29, "color": "black"},
         "encoding": {
           "x": {"datum": 4618, "type": "quantitative", "axis": null},
           "y": {"datum": 43.5, "type": "quantitative", "axis": null},
           "text": {"field": "region"}
         }}
      ],
      "resolve": {"axis": {"x": "independent", "y": "independent"}}
    },
    {
      "width": 425, "height": 286,
      "layer": [
        {"data": {"name": "sca"}, "transform": [{"filter": "datum.panel === 'Bw'"}],
         "mark": {"type": "line", "color": "#0000ff", "strokeWidth": 3.5, "clip": true},
         "encoding": {
           "x": {"field": "elev", "type": "quantitative", "scale": {"domain": [0, 5000], "nice": false}, "axis": {"values": [0,1000,2000,3000,4000], "labels": false, "title": null}},
           "y": {"field": "sd", "type": "quantitative", "scale": {"domain": [0, 50], "nice": false}, "axis": {"values": [0,10,20,30,40], "labels": false, "title": null}},
           "strokeDash": {"field": "month", "type": "nominal", "scale": {"domain": ["Apr","May","Jun","Jul"], "range": [[1,0],[11,5],[10,4,3,4],[3,3.5]]}, "legend": null}
         }},
        {"data": {"name": "labels"}, "transform": [{"filter": "datum.panel === 'Bw'"}],
         "mark": {"type": "text", "align": "left", "baseline": "middle", "font": "Liberation Sans", "fontSize": 29, "fontWeight": "bold", "color": "black"},
         "encoding": {
           "x": {"datum": 118, "type": "quantitative", "axis": {"orient": "top", "values": [1000,2000,3000,4000], "labels": false, "title": null}},
           "y": {"datum": 45.8, "type": "quantitative", "axis": {"orient": "right", "values": [10,20,30,40], "labels": false, "title": null}},
           "text": {"field": "code"}
         }},
        {"data": {"name": "labels"}, "transform": [{"filter": "datum.panel === 'Bw'"}],
         "mark": {"type": "text", "align": "right", "baseline": "middle", "font": "Liberation Sans", "fontSize": 29, "color": "black"},
         "encoding": {
           "x": {"datum": 4571, "type": "quantitative", "axis": null},
           "y": {"datum": 43.5, "type": "quantitative", "axis": null},
           "text": {"field": "region"}
         }}
      ],
      "resolve": {"axis": {"x": "independent", "y": "independent"}}
    },
    {
      "width": 425, "height": 286,
      "layer": [
        {"data": {"name": "sca"}, "transform": [{"filter": "datum.panel === 'Ae'"}],
         "mark": {"type": "line", "color": "#ff0000", "strokeWidth": 3.5, "clip": true},
         "encoding": {
           "x": {"field": "elev", "type": "quantitative", "scale": {"domain": [0, 5000], "nice": false}, "axis": {"values": [0,1000,2000,3000,4000], "labels": false, "title": null}},
           "y": {"field": "sd", "type": "quantitative", "scale": {"domain": [0, 50], "nice": false}, "axis": {"values": [0,10,20,30,40], "labelPadding": 14, "title": "SCA Std Dev (%)", "titleX": -45, "titleY": 263, "titleAngle": -90, "titleAlign": "center", "titleBaseline": "bottom"}},
           "strokeDash": {"field": "month", "type": "nominal", "scale": {"domain": ["Apr","May","Jun","Jul"], "range": [[1,0],[11,5],[10,4,3,4],[3,3.5]]},
             "legend": {"title": "East Slope", "orient": "none", "legendX": 892, "legendY": -7, "titleFont": "Liberation Sans", "titleFontSize": 29, "titleFontWeight": "bold", "titleColor": "black", "titlePadding": 9, "labelFont": "Liberation Sans", "labelFontSize": 27, "labelColor": "black", "labelOffset": 9, "symbolType": "stroke", "symbolSize": 6084, "symbolStrokeWidth": 3.5, "symbolStrokeColor": "#ff0000", "clipHeight": 28, "rowPadding": 11}}
         }},
        {"data": {"name": "labels"}, "transform": [{"filter": "datum.panel === 'Ae'"}],
         "mark": {"type": "text", "align": "left", "baseline": "middle", "font": "Liberation Sans", "fontSize": 29, "fontWeight": "bold", "color": "black"},
         "encoding": {
           "x": {"datum": 153, "type": "quantitative", "axis": {"orient": "top", "values": [1000,2000,3000,4000], "labels": false, "title": null}},
           "y": {"datum": 45.1, "type": "quantitative", "axis": {"orient": "right", "values": [10,20,30,40], "labels": false, "title": null}},
           "text": {"field": "code"}
         }},
        {"data": {"name": "labels"}, "transform": [{"filter": "datum.panel === 'Ae'"}],
         "mark": {"type": "text", "align": "right", "baseline": "middle", "font": "Liberation Sans", "fontSize": 29, "color": "black"},
         "encoding": {
           "x": {"datum": 4653, "type": "quantitative", "axis": null},
           "y": {"datum": 43.5, "type": "quantitative", "axis": null},
           "text": {"field": "region"}
         }}
      ],
      "resolve": {"axis": {"x": "independent", "y": "independent"}}
    },
    {
      "width": 425, "height": 286,
      "layer": [
        {"data": {"name": "sca"}, "transform": [{"filter": "datum.panel === 'Be'"}],
         "mark": {"type": "line", "color": "#ff0000", "strokeWidth": 3.5, "clip": true},
         "encoding": {
           "x": {"field": "elev", "type": "quantitative", "scale": {"domain": [0, 5000], "nice": false}, "axis": {"values": [0,1000,2000,3000,4000], "labels": false, "title": null}},
           "y": {"field": "sd", "type": "quantitative", "scale": {"domain": [0, 50], "nice": false}, "axis": {"values": [0,10,20,30,40], "labels": false, "title": null}},
           "strokeDash": {"field": "month", "type": "nominal", "scale": {"domain": ["Apr","May","Jun","Jul"], "range": [[1,0],[11,5],[10,4,3,4],[3,3.5]]}, "legend": null}
         }},
        {"data": {"name": "labels"}, "transform": [{"filter": "datum.panel === 'Be'"}],
         "mark": {"type": "text", "align": "left", "baseline": "middle", "font": "Liberation Sans", "fontSize": 29, "fontWeight": "bold", "color": "black"},
         "encoding": {
           "x": {"datum": 94, "type": "quantitative", "axis": {"orient": "top", "values": [1000,2000,3000,4000], "labels": false, "title": null}},
           "y": {"datum": 45.4, "type": "quantitative", "axis": {"orient": "right", "values": [10,20,30,40], "labels": false, "title": null}},
           "text": {"field": "code"}
         }},
        {"data": {"name": "labels"}, "transform": [{"filter": "datum.panel === 'Be'"}],
         "mark": {"type": "text", "align": "right", "baseline": "middle", "font": "Liberation Sans", "fontSize": 29, "color": "black"},
         "encoding": {
           "x": {"datum": 4642, "type": "quantitative", "axis": null},
           "y": {"datum": 43.5, "type": "quantitative", "axis": null},
           "text": {"field": "region"}
         }}
      ],
      "resolve": {"axis": {"x": "independent", "y": "independent"}}
    },
    {
      "width": 425, "height": 286,
      "layer": [
        {"data": {"name": "sca"}, "transform": [{"filter": "datum.panel === 'Cw'"}],
         "mark": {"type": "line", "color": "#0000ff", "strokeWidth": 3.5, "clip": true},
         "encoding": {
           "x": {"field": "elev", "type": "quantitative", "scale": {"domain": [0, 5000], "nice": false}, "axis": {"values": [0,1000,2000,3000,4000], "labels": false, "title": null}},
           "y": {"field": "sd", "type": "quantitative", "scale": {"domain": [0, 50], "nice": false}, "axis": {"values": [0,10,20,30,40], "labelPadding": 14, "title": null}},
           "strokeDash": {"field": "month", "type": "nominal", "scale": {"domain": ["Apr","May","Jun","Jul"], "range": [[1,0],[11,5],[10,4,3,4],[3,3.5]]}, "legend": null}
         }},
        {"data": {"name": "labels"}, "transform": [{"filter": "datum.panel === 'Cw'"}],
         "mark": {"type": "text", "align": "left", "baseline": "middle", "font": "Liberation Sans", "fontSize": 29, "fontWeight": "bold", "color": "black"},
         "encoding": {
           "x": {"datum": 129, "type": "quantitative", "axis": {"orient": "top", "values": [1000,2000,3000,4000], "labels": false, "title": null}},
           "y": {"datum": 44.9, "type": "quantitative", "axis": {"orient": "right", "values": [10,20,30,40], "labels": false, "title": null}},
           "text": {"field": "code"}
         }},
        {"data": {"name": "labels"}, "transform": [{"filter": "datum.panel === 'Cw'"}],
         "mark": {"type": "text", "align": "right", "baseline": "middle", "font": "Liberation Sans", "fontSize": 29, "color": "black"},
         "encoding": {
           "x": {"datum": 4324, "type": "quantitative", "axis": null},
           "y": {"datum": 44.5, "type": "quantitative", "axis": null},
           "text": {"field": "region"}
         }}
      ],
      "resolve": {"axis": {"x": "independent", "y": "independent"}}
    },
    {
      "width": 425, "height": 286,
      "layer": [
        {"data": {"name": "sca"}, "transform": [{"filter": "datum.panel === 'Dw'"}],
         "mark": {"type": "line", "color": "#0000ff", "strokeWidth": 3.5, "clip": true},
         "encoding": {
           "x": {"field": "elev", "type": "quantitative", "scale": {"domain": [0, 5000], "nice": false}, "axis": {"values": [0,1000,2000,3000,4000], "labels": false, "title": null}},
           "y": {"field": "sd", "type": "quantitative", "scale": {"domain": [0, 50], "nice": false}, "axis": {"values": [0,10,20,30,40], "labels": false, "title": null}},
           "strokeDash": {"field": "month", "type": "nominal", "scale": {"domain": ["Apr","May","Jun","Jul"], "range": [[1,0],[11,5],[10,4,3,4],[3,3.5]]}, "legend": null}
         }},
        {"data": {"name": "labels"}, "transform": [{"filter": "datum.panel === 'Dw'"}],
         "mark": {"type": "text", "align": "left", "baseline": "middle", "font": "Liberation Sans", "fontSize": 29, "fontWeight": "bold", "color": "black"},
         "encoding": {
           "x": {"datum": 118, "type": "quantitative", "axis": {"orient": "top", "values": [1000,2000,3000,4000], "labels": false, "title": null}},
           "y": {"datum": 45.6, "type": "quantitative", "axis": {"orient": "right", "values": [10,20,30,40], "labels": false, "title": null}},
           "text": {"field": "code"}
         }},
        {"data": {"name": "labels"}, "transform": [{"filter": "datum.panel === 'Dw'"}],
         "mark": {"type": "text", "align": "right", "baseline": "middle", "font": "Liberation Sans", "fontSize": 29, "color": "black"},
         "encoding": {
           "x": {"datum": 3749, "type": "quantitative", "axis": null},
           "y": {"datum": 44.7, "type": "quantitative", "axis": null},
           "text": {"field": "region"}
         }}
      ],
      "resolve": {"axis": {"x": "independent", "y": "independent"}}
    },
    {
      "width": 425, "height": 286,
      "layer": [
        {"data": {"name": "sca"}, "transform": [{"filter": "datum.panel === 'Ce'"}],
         "mark": {"type": "line", "color": "#ff0000", "strokeWidth": 3.5, "clip": true},
         "encoding": {
           "x": {"field": "elev", "type": "quantitative", "scale": {"domain": [0, 5000], "nice": false}, "axis": {"values": [0,1000,2000,3000,4000], "format": "d", "labelPadding": 18, "title": "Elevation (m)", "titleX": 428, "titleY": 49, "titleAlign": "center", "titleBaseline": "top", "titleAngle": 0}},
           "y": {"field": "sd", "type": "quantitative", "scale": {"domain": [0, 50], "nice": false}, "axis": {"values": [0,10,20,30,40], "labelPadding": 14, "title": null}},
           "strokeDash": {"field": "month", "type": "nominal", "scale": {"domain": ["Apr","May","Jun","Jul"], "range": [[1,0],[11,5],[10,4,3,4],[3,3.5]]}, "legend": null}
         }},
        {"data": {"name": "labels"}, "transform": [{"filter": "datum.panel === 'Ce'"}],
         "mark": {"type": "text", "align": "left", "baseline": "middle", "font": "Liberation Sans", "fontSize": 29, "fontWeight": "bold", "color": "black"},
         "encoding": {
           "x": {"datum": 141, "type": "quantitative", "axis": {"orient": "top", "values": [1000,2000,3000,4000], "labels": false, "title": null}},
           "y": {"datum": 45.6, "type": "quantitative", "axis": {"orient": "right", "values": [10,20,30,40], "labels": false, "title": null}},
           "text": {"field": "code"}
         }},
        {"data": {"name": "labels"}, "transform": [{"filter": "datum.panel === 'Ce'"}],
         "mark": {"type": "text", "align": "right", "baseline": "middle", "font": "Liberation Sans", "fontSize": 29, "color": "black"},
         "encoding": {
           "x": {"datum": 4324, "type": "quantitative", "axis": null},
           "y": {"datum": 45.1, "type": "quantitative", "axis": null},
           "text": {"field": "region"}
         }}
      ],
      "resolve": {"axis": {"x": "independent", "y": "independent"}}
    },
    {
      "width": 425, "height": 286,
      "layer": [
        {"data": {"name": "sca"}, "transform": [{"filter": "datum.panel === 'De'"}],
         "mark": {"type": "line", "color": "#ff0000", "strokeWidth": 3.5, "clip": true},
         "encoding": {
           "x": {"field": "elev", "type": "quantitative", "scale": {"domain": [0, 5000], "nice": false}, "axis": {"values": [0,1000,2000,3000,4000], "format": "d", "labelPadding": 18, "title": null}},
           "y": {"field": "sd", "type": "quantitative", "scale": {"domain": [0, 50], "nice": false}, "axis": {"values": [0,10,20,30,40], "labels": false, "title": null}},
           "strokeDash": {"field": "month", "type": "nominal", "scale": {"domain": ["Apr","May","Jun","Jul"], "range": [[1,0],[11,5],[10,4,3,4],[3,3.5]]}, "legend": null}
         }},
        {"data": {"name": "labels"}, "transform": [{"filter": "datum.panel === 'De'"}],
         "mark": {"type": "text", "align": "left", "baseline": "middle", "font": "Liberation Sans", "fontSize": 29, "fontWeight": "bold", "color": "black"},
         "encoding": {
           "x": {"datum": 94, "type": "quantitative", "axis": {"orient": "top", "values": [1000,2000,3000,4000], "labels": false, "title": null}},
           "y": {"datum": 45.8, "type": "quantitative", "axis": {"orient": "right", "values": [10,20,30,40], "labels": false, "title": null}},
           "text": {"field": "code"}
         }},
        {"data": {"name": "labels"}, "transform": [{"filter": "datum.panel === 'De'"}],
         "mark": {"type": "text", "align": "right", "baseline": "middle", "font": "Liberation Sans", "fontSize": 29, "color": "black"},
         "encoding": {
           "x": {"datum": 3643, "type": "quantitative", "axis": null},
           "y": {"datum": 45.1, "type": "quantitative", "axis": null},
           "text": {"field": "region"}
         }}
      ],
      "resolve": {"axis": {"x": "independent", "y": "independent"}}
    }
  ]
}
